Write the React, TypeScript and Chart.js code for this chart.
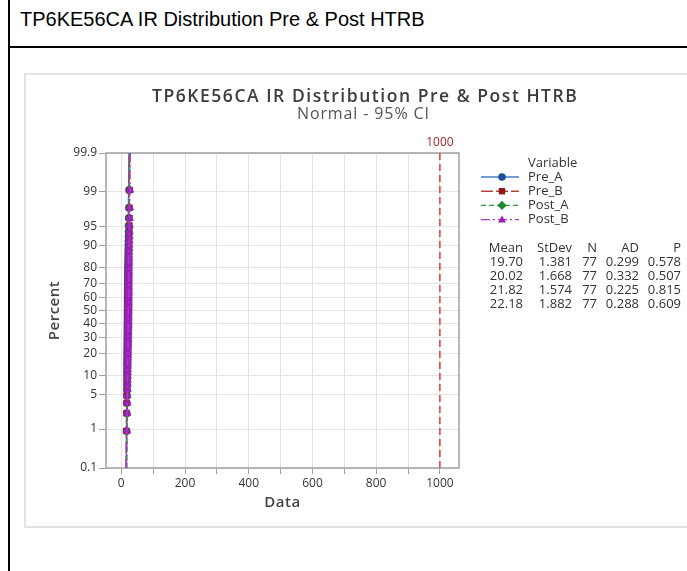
import React, { useEffect, useRef } from 'react';
import { Chart, registerables } from 'chart.js';

Chart.register(...registerables);

// ---------- data ----------
const seriesNames = ['Pre_A', 'Pre_B', 'Post_A', 'Post_B'];

const preA = [
  16.6, 17.1, 17.4, 17.6, 17.8, 17.9, 18.0, 18.1, 18.2, 18.3,
  18.4, 18.5, 18.6, 18.6, 18.7, 18.8, 18.9, 18.9, 19.0, 19.0,
  19.1, 19.1, 19.2, 19.2, 19.3, 19.3, 19.4, 19.4, 19.5, 19.5,
  19.5, 19.6, 19.6, 19.7, 19.7, 19.7, 19.8, 19.8, 19.9, 19.9,
  20.0, 20.0, 20.0, 20.1, 20.1, 20.2, 20.2, 20.3, 20.3, 20.4,
  20.4, 20.5, 20.5, 20.6, 20.6, 20.7, 20.8, 20.8, 20.9, 21.0,
  21.1, 21.2, 21.2, 21.3, 21.4, 21.5, 21.6, 21.8, 21.9, 22.0,
  22.2, 22.4, 22.6, 22.8, 23.1, 23.5, 24.1,
];
const preB = [
  15.9, 16.6, 17.0, 17.3, 17.5, 17.7, 17.9, 18.1, 18.2, 18.4,
  18.5, 18.6, 18.7, 18.8, 18.9, 19.0, 19.1, 19.2, 19.3, 19.3,
  19.4, 19.5, 19.5, 19.6, 19.6, 19.7, 19.7, 19.8, 19.8, 19.9,
  19.9, 20.0, 20.0, 20.1, 20.1, 20.2, 20.2, 20.3, 20.3, 20.4,
  20.4, 20.5, 20.5, 20.6, 20.6, 20.7, 20.8, 20.8, 20.9, 21.0,
  21.0, 21.1, 21.2, 21.3, 21.4, 21.5, 21.6, 21.7, 21.8, 21.9,
  22.0, 22.1, 22.3, 22.4, 22.6, 22.7, 22.9, 23.1, 23.4, 23.7,
  24.1, 24.6, 25.0, 25.3, 25.6, 25.9, 26.2,
];
const postA = [
  18.0, 18.7, 19.1, 19.4, 19.6, 19.8, 20.0, 20.1, 20.3, 20.4,
  20.5, 20.6, 20.7, 20.8, 20.9, 21.0, 21.0, 21.1, 21.2, 21.2,
  21.3, 21.3, 21.4, 21.4, 21.5, 21.5, 21.6, 21.6, 21.7, 21.7,
  21.8, 21.8, 21.9, 21.9, 22.0, 22.0, 22.1, 22.1, 22.2, 22.2,
  22.3, 22.3, 22.4, 22.4, 22.5, 22.5, 22.6, 22.7, 22.7, 22.8,
  22.9, 23.0, 23.0, 23.1, 23.2, 23.3, 23.4, 23.5, 23.6, 23.7,
  23.8, 23.9, 24.0, 24.2, 24.3, 24.5, 24.7, 24.9, 25.2, 25.5,
  25.8, 26.1, 18.4, 19.0, 20.2, 21.1, 22.6,
];
const postB = [
  17.6, 18.3, 18.8, 19.2, 19.5, 19.7, 19.9, 20.1, 20.3, 20.5,
  20.6, 20.7, 20.8, 20.9, 21.0, 21.1, 21.2, 21.3, 21.4, 21.5,
  21.6, 21.6, 21.7, 21.8, 21.8, 21.9, 22.0, 22.0, 22.1, 22.1,
  22.2, 22.2, 22.3, 22.3, 22.4, 22.4, 22.5, 22.5, 22.6, 22.7,
  22.7, 22.8, 22.9, 22.9, 23.0, 23.1, 23.2, 23.3, 23.3, 23.4,
  23.5, 23.6, 23.7, 23.8, 23.9, 24.0, 24.1, 24.3, 24.4, 24.6,
  24.8, 25.0, 25.2, 25.5, 25.8, 26.2, 26.7, 27.3, 19.0, 20.0,
  20.4, 21.2, 22.6, 23.0, 24.2, 21.0, 22.0,
];
const seriesValues = [preA, preB, postA, postB];

// fitted normal line: data value at 0.1 % and at 99.9 %
const fitLow = [15.43, 14.87, 16.96, 16.36];
const fitHigh = [23.97, 25.17, 26.68, 28.0];

const statHeaders = ['Mean', 'StDev', 'N', 'AD', 'P'];
const statMean = ['19.70', '20.02', '21.82', '22.18'];
const statStDev = ['1.381', '1.668', '1.574', '1.882'];
const statN = ['77', '77', '77', '77'];
const statAD = ['0.299', '0.332', '0.225', '0.288'];
const statP = ['0.578', '0.507', '0.815', '0.609'];

const yTickPercents = [0.1, 1, 5, 10, 20, 30, 40, 50, 60, 70, 80, 90, 95, 99, 99.9];
const yTickLabels = ['0.1', '1', '5', '10', '20', '30', '40', '50', '60', '70', '80', '90', '95', '99', '99.9'];
const xGridValues = [0, 100, 200, 300, 400, 500, 600, 700, 800, 900, 1000];
const xTickLabels = ['0', '', '200', '', '400', '', '600', '', '800', '', '1000'];
const xMin = -48;
const xMax = 1060;
const refLineX = 1000;
const refLineLabel = '1000';

const pageTitle = 'TP6KE56CA IR Distribution Pre & Post HTRB';
const chartTitle = 'TP6KE56CA IR Distribution Pre & Post HTRB';
const chartSubtitle = 'Normal - 95% CI';
const xTitle = 'Data';
const yTitle = 'Percent';
const legendTitle = 'Variable';

// ---------- styles ----------
const markerColors = ['#1f4e9a', '#8e1b1b', '#1e8a2e', '#9a1fb8'];
const lineColors = ['#3f7fc9', '#b5413f', '#2f9a3a', '#a43cc8'];
const markerStyles = ['circle', 'rect', 'rectRot', 'triangle'];
const markerSizes = [3.6, 4.2, 3.4, 4.6];
const lineDashes: number[][] = [[], [12, 3], [5, 3], [9, 3, 2, 3]];
const FONT = '"Open Sans", "DejaVu Sans", sans-serif';

// inverse standard normal CDF (probability axis transform)
function probit(p: number): number {
  const a = [-3.969683028665376e1, 2.209460984245205e2, -2.759285104469687e2, 1.38357751867269e2, -3.066479806614716e1, 2.506628277459239];
  const b = [-5.447609879822406e1, 1.615858368580409e2, -1.556989798598866e2, 6.680131188771972e1, -1.328068155288572e1];
  const c = [-7.784894002430293e-3, -3.223964580411365e-1, -2.400758277161838, -2.549732539343734, 4.374664141464968, 2.938163982698783];
  const d = [7.784695709041462e-3, 3.224671290700398e-1, 2.445134137142996, 3.754408661907416];
  const pl = 0.02425;
  if (p < pl) {
    const q = Math.sqrt(-2 * Math.log(p));
    return (((((c[0] * q + c[1]) * q + c[2]) * q + c[3]) * q + c[4]) * q + c[5]) / ((((d[0] * q + d[1]) * q + d[2]) * q + d[3]) * q + 1);
  }
  if (p <= 1 - pl) {
    const q = p - 0.5;
    const r = q * q;
    return ((((((a[0] * r + a[1]) * r + a[2]) * r + a[3]) * r + a[4]) * r + a[5]) * q) / (((((b[0] * r + b[1]) * r + b[2]) * r + b[3]) * r + b[4]) * r + 1);
  }
  const q = Math.sqrt(-2 * Math.log(1 - p));
  return -(((((c[0] * q + c[1]) * q + c[2]) * q + c[3]) * q + c[4]) * q + c[5]) / ((((d[0] * q + d[1]) * q + d[2]) * q + d[3]) * q + 1);
}

const Z_MIN = probit(yTickPercents[0] / 100);
const Z_MAX = probit(yTickPercents[yTickPercents.length - 1] / 100);

function probabilityPoints(values: number[]) {
  const sorted = [...values].sort((p, q) => p - q);
  const n = sorted.length;
  return sorted.map((v, i) => ({ x: v, y: probit((i + 1 - 0.3) / (n + 0.4)) }));
}

function drawMarker(ctx: CanvasRenderingContext2D, style: string, x: number, y: number, r: number, color: string) {
  ctx.save();
  ctx.fillStyle = color;
  ctx.beginPath();
  if (style === 'circle') {
    ctx.arc(x, y, r, 0, Math.PI * 2);
  } else if (style === 'rect') {
    ctx.rect(x - r * 0.85, y - r * 0.85, 1.7 * r, 1.7 * r);
  } else if (style === 'rectRot') {
    ctx.moveTo(x, y - r * 1.2);
    ctx.lineTo(x + r * 1.2, y);
    ctx.lineTo(x, y + r * 1.2);
    ctx.lineTo(x - r * 1.2, y);
    ctx.closePath();
  } else {
    ctx.moveTo(x, y - r * 1.1);
    ctx.lineTo(x + r * 1.05, y + r * 0.75);
    ctx.lineTo(x - r * 1.05, y + r * 0.75);
    ctx.closePath();
  }
  ctx.fill();
  ctx.restore();
}

function fitText(ctx: any, text: string, target: number) {
  ctx.letterSpacing = '0px';
  const w = ctx.measureText(text).width;
  const sp = (target - w) / (text.length - 1);
  ctx.letterSpacing = `${sp.toFixed(2)}px`;
}

const decorPlugin = {
  id: 'decor',
  beforeDatasetsDraw(chart: any) {
    const { ctx, chartArea: a } = chart;
    ctx.save();
    ctx.strokeStyle = '#a0a0a0';
    ctx.lineWidth = 1.5;
    ctx.strokeRect(a.left, a.top, a.right - a.left, a.bottom - a.top);
    ctx.restore();
  },
  afterDraw(chart: any) {
    const { ctx, chartArea: a } = chart;
    ctx.save();
    // titles
    ctx.textAlign = 'left';
    ctx.textBaseline = 'alphabetic';
    ctx.fillStyle = '#3c3c3c';
    ctx.font = `600 17.5px ${FONT}`;
    fitText(ctx, chartTitle, 425);
    ctx.fillText(chartTitle, 127, 28);
    ctx.fillStyle = '#555';
    ctx.font = `16px ${FONT}`;
    fitText(ctx, chartSubtitle, 132);
    ctx.fillText(chartSubtitle, 272, 45);
    ctx.letterSpacing = '0.5px';

    // axis titles
    ctx.textAlign = 'center';
    ctx.textBaseline = 'middle';
    ctx.fillStyle = '#444';
    ctx.font = `600 15px ${FONT}`;
    ctx.fillText(xTitle, (a.left + a.right) / 2, 429);
    ctx.save();
    ctx.translate(30, (a.top + a.bottom) / 2);
    ctx.rotate(-Math.PI / 2);
    ctx.fillText(yTitle, 0, 0);
    ctx.restore();
    ctx.letterSpacing = '0px';

    // legend
    ctx.textAlign = 'left';
    ctx.fillStyle = '#333';
    ctx.font = `13px ${FONT}`;
    ctx.fillText(legendTitle, 503, 89);
    seriesNames.forEach((name, i) => {
      const y = 103 + i * 14.2;
      ctx.save();
      ctx.strokeStyle = lineColors[i];
      ctx.lineWidth = 1.4;
      ctx.setLineDash(lineDashes[i]);
      ctx.beginPath();
      ctx.moveTo(456, y);
      ctx.lineTo(494, y);
      ctx.stroke();
      ctx.restore();
      drawMarker(ctx, markerStyles[i], 477, y, 3.8, markerColors[i]);
      ctx.fillStyle = '#333';
      ctx.fillText(name, 503, y);
    });

    // stats table
    const colRight = [498, 547, 572, 614, 656];
    ctx.textAlign = 'right';
    ctx.font = `13px ${FONT}`;
    statHeaders.forEach((h, j) => ctx.fillText(h, colRight[j], 174));
    const cols = [statMean, statStDev, statN, statAD, statP];
    for (let i = 0; i < seriesNames.length; i++) {
      cols.forEach((col, j) => ctx.fillText(col[i], colRight[j], 188 + i * 14));
    }
    ctx.restore();
  },
};

export default function App() {
  const canvasRef = useRef<HTMLCanvasElement | null>(null);

  useEffect(() => {
    const canvas = canvasRef.current;
    if (!canvas) return;

    const datasets: any[] = [];
    // reference line at 1000
    datasets.push({
      label: 'ref',
      data: [
        { x: refLineX, y: Z_MIN },
        { x: refLineX, y: Z_MAX },
      ],
      showLine: true,
      borderColor: '#e23a3a',
      borderWidth: 1.5,
      borderDash: [7, 4],
      pointRadius: 0,
      order: 20,
    });
    seriesNames.forEach((name, i) => {
      datasets.push({
        label: name,
        data: probabilityPoints(seriesValues[i]),
        showLine: false,
        pointStyle: markerStyles[i],
        pointRadius: markerSizes[i],
        backgroundColor: markerColors[i],
        borderColor: markerColors[i],
        borderWidth: 0.5,
        order: 15 - i * 2,
      });
      datasets.push({
        label: name + ' fit',
        data: [
          { x: fitLow[i], y: Z_MIN },
          { x: fitHigh[i], y: Z_MAX },
        ],
        showLine: true,
        borderColor: lineColors[i],
        borderWidth: 1.5,
        borderDash: lineDashes[i],
        pointRadius: 0,
        order: 14 - i * 2,
      });
    });

    const chart = new Chart(canvas, {
      type: 'scatter',
      data: { datasets },
      plugins: [decorPlugin],
      options: {
        animation: false,
        responsive: false,
        devicePixelRatio: 1,
        layout: { padding: { left: 0, right: 228, top: 63, bottom: 28 } },
        plugins: {
          legend: { display: false },
          title: { display: false },
          tooltip: { enabled: false },
        },
        scales: {
          x: {
            type: 'linear',
            position: 'bottom',
            min: xMin,
            max: xMax,
            afterFit: (s: any) => {
              s.height = 30;
            },
            afterBuildTicks: (s: any) => {
              s.ticks = xGridValues.map((v) => ({ value: v }));
            },
            ticks: {
              autoSkip: false,
              maxRotation: 0,
              padding: 2,
              color: '#333',
              font: { family: FONT, size: 12 },
              callback: (_v: any, i: number) => xTickLabels[i],
            },
            grid: { color: '#e4e4e4', tickColor: '#a0a0a0', tickLength: 6, lineWidth: 1 },
            border: { display: false },
          },
          x2: {
            type: 'linear',
            position: 'top',
            min: xMin,
            max: xMax,
            afterFit: (s: any) => {
              s.height = 16;
            },
            afterBuildTicks: (s: any) => {
              s.ticks = [{ value: refLineX }];
            },
            ticks: {
              autoSkip: false,
              maxRotation: 0,
              padding: 3,
              color: '#a3282a',
              font: { family: FONT, size: 12 },
              callback: () => refLineLabel,
            },
            grid: { display: false, drawTicks: false },
            border: { display: false },
          },
          y: {
            type: 'linear',
            min: Z_MIN,
            max: Z_MAX,
            afterFit: (s: any) => {
              s.width = 81;
            },
            afterBuildTicks: (s: any) => {
              s.ticks = yTickPercents.map((p) => ({ value: probit(p / 100) }));
            },
            ticks: {
              autoSkip: false,
              padding: 2,
              color: '#333',
              font: { family: FONT, size: 12 },
              callback: (_v: any, i: number) => yTickLabels[i],
            },
            grid: { color: '#e4e4e4', tickColor: '#a0a0a0', tickLength: 7, lineWidth: 1 },
            border: { display: false },
          },
        },
      },
    });
    return () => chart.destroy();
  }, []);

  return (
    <div
      style={{
        position: 'fixed',
        left: 0,
        top: 0,
        width: 687,
        height: 571,
        overflow: 'hidden',
        background: '#fff',
        fontFamily: 'Arial, "Liberation Sans", sans-serif',
      }}
    >
      <div style={{ position: 'absolute', left: 8, top: 0, width: 2, height: 571, background: '#000' }} />
      <div style={{ position: 'absolute', left: 8, top: 46, width: 679, height: 2, background: '#000' }} />
      <div
        style={{
          position: 'absolute',
          left: 20,
          top: 8,
          fontSize: 20,
          lineHeight: '23px',
          color: '#000',
          whiteSpace: 'nowrap',
        }}
      >
        {pageTitle}
      </div>
      <div
        style={{
          position: 'absolute',
          left: 24,
          top: 73,
          width: 663,
          height: 455,
          borderTop: '2px solid #e2e2e2',
          borderLeft: '2px solid #e2e2e2',
          borderBottom: '2px solid #e2e2e2',
          boxSizing: 'border-box',
        }}
      />
      <canvas
        ref={canvasRef}
        width={662}
        height={452}
        style={{ position: 'absolute', left: 25, top: 74, width: 662, height: 452 }}
      />
    </div>
  );
}
